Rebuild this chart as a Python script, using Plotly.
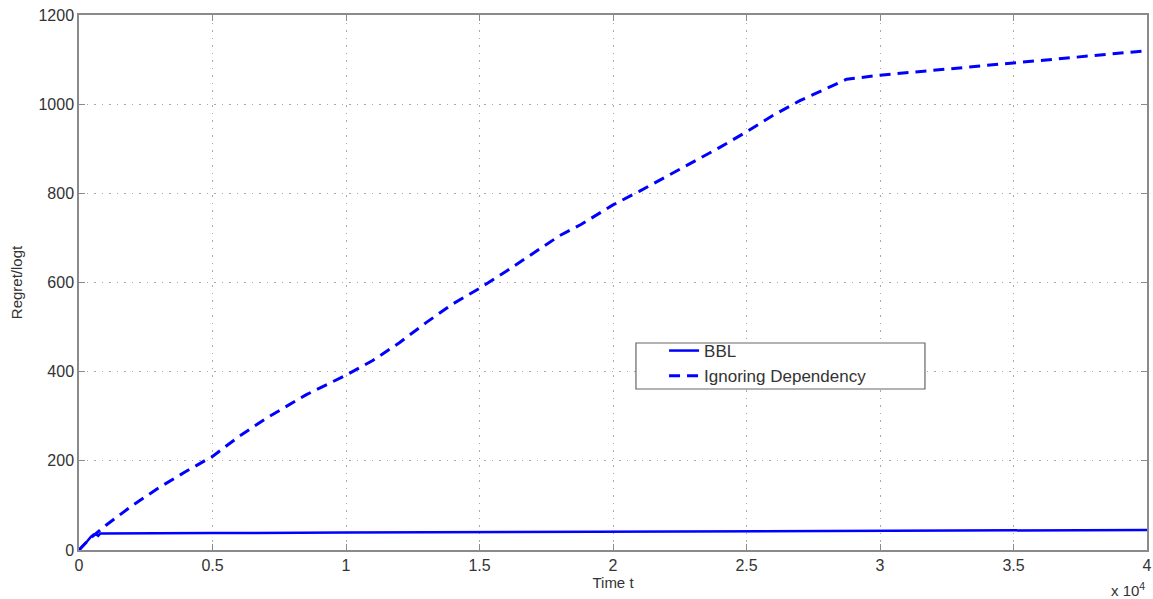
import plotly.graph_objects as go

# Data (time t, regret/log t)
bbl_t = [0, 150, 300, 450, 550, 650, 720, 800, 1000, 2000, 5000, 10000, 15000, 20000, 25000, 30000, 35000, 40000]
bbl_v = [0, 9, 19, 30, 35, 35, 32, 37, 37, 37, 38, 39, 40, 41, 42, 43, 44, 45]

ign_t = [0, 400, 1000, 2000, 3000, 4000, 5000, 6000, 7000, 8500, 10000, 11000, 12000,
         13000, 14000, 15000, 16000, 17000, 18000, 18800, 20000, 21000, 22000, 23000,
         24000, 25000, 26000, 27000, 28750, 30000, 32000, 35000, 37000, 40000]
ign_v = [0, 25, 55, 100, 140, 176, 210, 255, 295, 348, 392, 425, 465,
         510, 552, 587, 625, 665, 705, 730, 774, 805, 838, 870,
         903, 938, 975, 1008, 1056, 1065, 1076, 1094, 1104, 1120]

x_tickvals = [0, 5000, 10000, 15000, 20000, 25000, 30000, 35000, 40000]
x_ticktext = ["0", "0.5", "1", "1.5", "2", "2.5", "3", "3.5", "4"]
y_tickvals = [0, 200, 400, 600, 800, 1000, 1200]

FONT = "Liberation Sans, Arial, sans-serif"

fig = go.Figure()
fig.add_trace(go.Scatter(x=bbl_t, y=bbl_v, mode="lines", name="BBL",
                         line=dict(color="#0000ff", width=2.5)))
fig.add_trace(go.Scatter(x=ign_t, y=ign_v, mode="lines", name="Ignoring Dependency",
                         line=dict(color="#0000ff", width=3, dash="11px,7px")))

axis_common = dict(showline=True, linecolor="#8a8a8a", linewidth=1.5, mirror="ticks",
                   showgrid=True, gridcolor="#a8a8a8", griddash="1.5px,6px", gridwidth=1,
                   ticks="inside", ticklen=6, tickcolor="#8a8a8a", zeroline=False,
                   automargin=False, ticklabeloverflow="allow",
                   tickfont=dict(family=FONT, size=16, color="#333"))

fig.update_layout(
    width=1153, height=599,
    margin=dict(l=79, r=6, t=15, b=49),
    paper_bgcolor="white", plot_bgcolor="white",
    font=dict(family=FONT, size=15, color="#333"),
    xaxis=dict(range=[0, 40000], tickvals=x_tickvals, ticktext=x_ticktext,
               title=dict(text="Time t", standoff=2, font=dict(size=15)), **axis_common),
    yaxis=dict(range=[0, 1200], tickvals=y_tickvals,
               title=dict(text="Regret/logt", standoff=12, font=dict(size=15)), **axis_common),
    legend=dict(x=0.5478, y=0.4056, xanchor="left", yanchor="top",
                bgcolor="rgba(0,0,0,0)", borderwidth=0,
                font=dict(family=FONT, size=17, color="#333"), tracegroupgap=0),
    showlegend=True,
)
# legend frame
fig.add_shape(type="rect", xref="paper", yref="paper",
              x0=0.5215, x1=0.7921, y0=0.3009, y1=0.3869,
              line=dict(color="#666", width=1.2), fillcolor="white", layer="above")
fig.add_annotation(x=1.0, y=-0.052, xref="paper", yref="paper", xanchor="right", yanchor="top",
                   text="x 10<sup>4</sup>", showarrow=False,
                   font=dict(family=FONT, size=15, color="#333"))

fig.write_html("out.html", config={"displayModeBar": False},
               post_script="document.body.style.margin='0';document.body.style.overflow='hidden';")
